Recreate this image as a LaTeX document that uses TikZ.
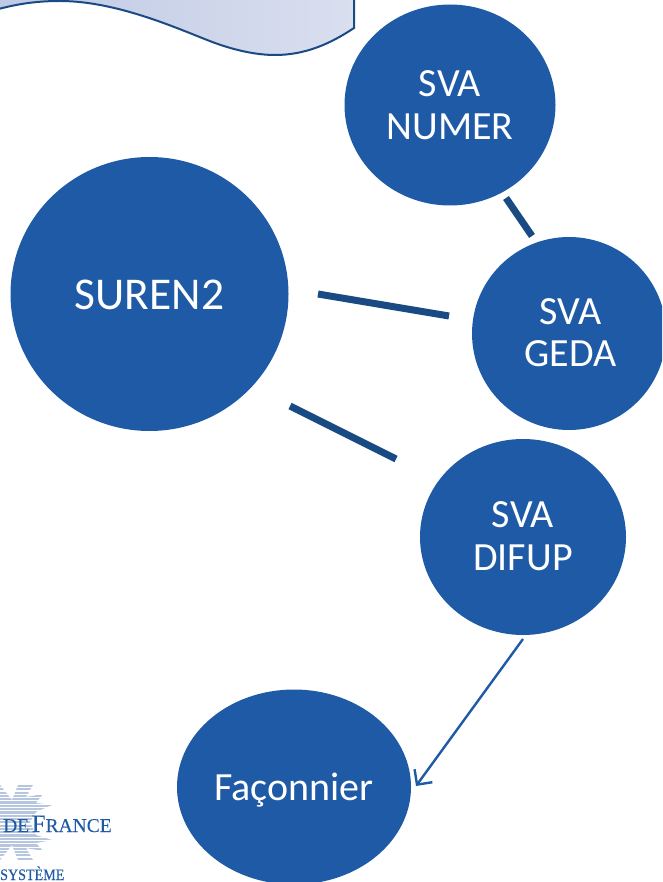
\documentclass[tikz,border=0pt]{standalone}
\usepackage{fontspec}
\setmainfont{Carlito}
\newfontfamily\logofont[FakeBold=0.2]{Liberation Serif}
\newfontfamily\logofontb[FakeBold=0.3,FakeStretch=0.88]{Liberation Serif}
\usetikzlibrary{arrows.meta,shadings,shapes.geometric}
\definecolor{bdf}{HTML}{1F5AA6}
\definecolor{bdfdark}{HTML}{1A4A84}
\definecolor{bannerA}{HTML}{BEC9E5}
\definecolor{bannerB}{HTML}{DADFEF}
\definecolor{stripe}{HTML}{B5C6DE}
\tikzset{
  x=1pt,y=-1pt,
  bubble/.style={ellipse,fill=bdf,text=white,inner sep=0pt,align=center,font=\fontsize{40}{42.5}\selectfont},
  bar/.style={draw=bdfdark,line width=7pt},
  arrowline/.style={draw=bdf,line width=2.4pt,-{Straight Barb[length=11pt,width=22pt,line width=2.4pt]}},
  logotext/.style={text=bdf,inner sep=0pt,anchor=base west},
}
\begin{document}
\begin{tikzpicture}
\useasboundingbox (0,0) rectangle (662,882);
\clip (0,0) rectangle (662,882);
% banner
\path[left color=bannerA,right color=bannerB,draw=bdfdark,line width=2pt]
  (-5,10) .. controls (20,3) and (40,1) .. (60,1)
  .. controls (120,1) and (185,32) .. (215,43)
  .. controls (240,52) and (260,55) .. (275,55)
  .. controls (305,55) and (330,44) .. (354,28)
  -- (354,-5) -- (-5,-5) -- cycle;
% bubbles
\node[bubble,minimum width=278pt,minimum height=274pt,font=\fontsize{45.5}{50}\selectfont] (suren) at (149.5,294) {\raisebox{-16pt}[0pt][0pt]{SUREN2}};
\node[bubble,minimum width=211pt,minimum height=201pt] (numer) at (450,105) {SVA\\NUMER};
\node[bubble,minimum width=194pt,minimum height=193pt] (geda) at (569,333.5) {\raisebox{2pt}{\kern3pt SVA}\\\raisebox{2pt}{\kern3pt GEDA}};
\node[bubble,minimum width=206pt,minimum height=196pt] (difup) at (523,537) {\raisebox{1.5pt}{SVA}\\\raisebox{1.5pt}{DIFUP}};
\node[bubble,minimum width=234pt,minimum height=195pt] (fac) at (294,787) {\raisebox{-13pt}[0pt][0pt]{Façonnier}};
% connector free ends
\coordinate (numerEnd) at (506,198);
\coordinate (gedaTop) at (532,236);
\coordinate (surenE) at (318,294);
\coordinate (gedaW) at (449,316);
\coordinate (surenSE) at (290,406);
\coordinate (difupNW) at (396,459);
\coordinate (difupS) at (523,639);
\coordinate (facE) at (416,786);
\draw[bar] (numerEnd) -- (gedaTop);
\draw[bar] (surenE) -- (gedaW);
\draw[bar] (surenSE) -- (difupNW);
\draw[arrowline] (difupS) -- (facE);
% logo
\begin{scope}
  \clip (18,785) -- (33,785) -- (26,797) -- (43,794) -- (36,803) -- (52,805) -- (36,812) -- (30,822) -- (36,835) -- (52,840) -- (36,843) -- (43,851) -- (26,848) -- (33,860) -- (18,860) -- (12,845) -- (0,860) -- (-5,860) -- (-5,785) -- (0,785) -- (12,800) -- cycle;
  \foreach \yy in {786,789.3,...,861}{
    \draw[stripe,line width=2.2pt] (-5,\yy) -- (60,\yy);
  }
\end{scope}
\node[logotext,font=\logofont\fontsize{19.5}{19.5}\selectfont] (logoA) at (3,832) {DE\kern2.5pt{\fontsize{25}{25}\selectfont F}RANCE};
\node[logotext,font=\logofontb\fontsize{16}{16}\selectfont] (logoB) at (0,880) {SYSTÈME};
\end{tikzpicture}
\end{document}
